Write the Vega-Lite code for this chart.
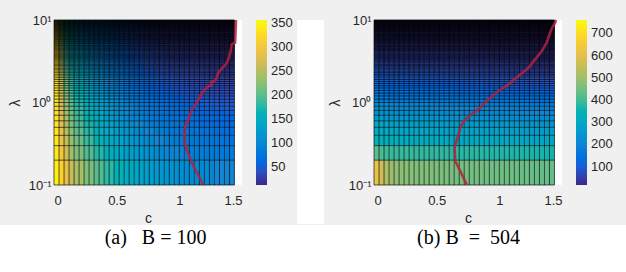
{
"$schema": "https://vega.github.io/schema/vega-lite/v6.json",
"background": "#f0f0f0",
"padding": {"left": 0, "top": 14, "right": 0, "bottom": 0},
"config": {
  "view": {"stroke": null},
  "axis": {"labelFont": "Liberation Sans", "labelFontSize": 13, "labelColor": "#262626", "titleFont": "Liberation Sans", "titleFontSize": 14, "titleFontWeight": "normal", "titleColor": "#262626", "grid": false, "ticks": false, "domain": false},
  "legend": {"labelFont": "Liberation Sans", "labelFontSize": 13, "labelColor": "#262626"}
},
"datasets": {
  "lam": [{"l": [0.1,0.2,0.3,0.4,0.5,0.6,0.7,0.8,0.9,1,1.1,1.2,1.3,1.4,1.5,1.6,1.7,1.8,1.9,2,2.1,2.2,2.3,2.4,2.5,2.6,2.7,2.8,2.9,3,3.1,3.2,3.3,3.4,3.5,3.6,3.7,3.8,3.9,4,4.1,4.2,4.3,4.4,4.5,4.6,4.7,4.8,4.9,5,5.1,5.2,5.3,5.4,5.5,5.6,5.7,5.8,5.9,6,6.1,6.2,6.3,6.4,6.5,6.6,6.7,6.8,6.9,7,7.1,7.2,7.3,7.4,7.5,7.6,7.7,7.8,7.9,8,8.1,8.2,8.3,8.4,8.5,8.6,8.7,8.8,8.9,9,9.1,9.2,9.3,9.4,9.5,9.6,9.7,9.8,9.9,10]}],
  "cgrid": [{"c": [0,0.04,0.08,0.12,0.16,0.2,0.24,0.28,0.32,0.36,0.4,0.44,0.48,0.52,0.56,0.6,0.64,0.68,0.72,0.76,0.8,0.84,0.88,0.92,0.96,1,1.04,1.08,1.12,1.16,1.2,1.24,1.28,1.32,1.36,1.4,1.44]}],
  "fillA": [
    {"l":0.1,"l2":0.2,"c":[0,0.04,0.08,0.12,0.16,0.24,0.32,0.4,0.48,0.56,0.64,0.72,0.8,0.88,0.96,1.04,1.12,1.2,1.28,1.36],"c2":[0.04,0.08,0.12,0.16,0.24,0.32,0.4,0.48,0.56,0.64,0.72,0.8,0.88,0.96,1.04,1.12,1.2,1.28,1.36,1.44],"v":[345,315,285,262,240,216,196,178,162,148,137,128,121,115,110,106,103,101,99,97]},
    {"l":0.2,"l2":0.3,"c":[0,0.04,0.08,0.12,0.16,0.24,0.32,0.4,0.48,0.56,0.64,0.72,0.8,0.88,0.96,1.04,1.12,1.2,1.28,1.36],"c2":[0.04,0.08,0.12,0.16,0.24,0.32,0.4,0.48,0.56,0.64,0.72,0.8,0.88,0.96,1.04,1.12,1.2,1.28,1.36,1.44],"v":[340,300,265,240,216,194,175,158,143,130,120,112,105,100,95,91,88,86,84,82]},
    {"l":0.3,"l2":0.4,"c":[0,0.04,0.08,0.12,0.16,0.24,0.32,0.4,0.48,0.56,0.64,0.72,0.8,0.88,0.96,1.04,1.12,1.2,1.28,1.36],"c2":[0.04,0.08,0.12,0.16,0.24,0.32,0.4,0.48,0.56,0.64,0.72,0.8,0.88,0.96,1.04,1.12,1.2,1.28,1.36,1.44],"v":[338,292,256,230,206,184,165,149,135,123,113,105,98,92,87,83,80,78,76,74]},
    {"l":0.4,"l2":0.5,"c":[0,0.04,0.08,0.12,0.16,0.24,0.32,0.4,0.48,0.56,0.64,0.72,0.8,0.88,0.96,1.04,1.12,1.2,1.28,1.36],"c2":[0.04,0.08,0.12,0.16,0.24,0.32,0.4,0.48,0.56,0.64,0.72,0.8,0.88,0.96,1.04,1.12,1.2,1.28,1.36,1.44],"v":[336,286,249,222,198,176,157,141,127,115,105,97,90,84,80,76,73,71,69,67]},
    {"l":0.5,"l2":0.6,"c":[0,0.04,0.08,0.12,0.16,0.24,0.32,0.4,0.48,0.56,0.64,0.72,0.8,0.88,0.96,1.04,1.12,1.2,1.28,1.36],"c2":[0.04,0.08,0.12,0.16,0.24,0.32,0.4,0.48,0.56,0.64,0.72,0.8,0.88,0.96,1.04,1.12,1.2,1.28,1.36,1.44],"v":[335,281,243,216,192,170,151,135,121,109,99,91,84,79,75,71,68,66,64,62]},
    {"l":0.6,"l2":0.7,"c":[0,0.04,0.08,0.12,0.16,0.24,0.32,0.4,0.48,0.56,0.64,0.72,0.8,0.88,0.96,1.04,1.12,1.2,1.28,1.36],"c2":[0.04,0.08,0.12,0.16,0.24,0.32,0.4,0.48,0.56,0.64,0.72,0.8,0.88,0.96,1.04,1.12,1.2,1.28,1.36,1.44],"v":[334,277,238,211,187,165,146,130,116,104,94,86,80,75,71,67,64,62,60,58]},
    {"l":0.7,"l2":0.8,"c":[0,0.04,0.08,0.12,0.16,0.24,0.32,0.4,0.48,0.56,0.64,0.72,0.8,0.88,0.96,1.04,1.12,1.2,1.28,1.36],"c2":[0.04,0.08,0.12,0.16,0.24,0.32,0.4,0.48,0.56,0.64,0.72,0.8,0.88,0.96,1.04,1.12,1.2,1.28,1.36,1.44],"v":[333,273,234,207,183,161,142,126,112,100,90,82,76,71,67,63,60,58,56,54]},
    {"l":0.8,"l2":0.9,"c":[0,0.04,0.08,0.12,0.16,0.24,0.32,0.4,0.48,0.56,0.64,0.72,0.8,0.88,0.96,1.04,1.12,1.2,1.28,1.36],"c2":[0.04,0.08,0.12,0.16,0.24,0.32,0.4,0.48,0.56,0.64,0.72,0.8,0.88,0.96,1.04,1.12,1.2,1.28,1.36,1.44],"v":[332,270,230,203,179,157,138,122,108,96,86,79,73,68,64,60,57,55,53,51]},
    {"l":0.9,"l2":1.0,"c":[0,0.04,0.08,0.12,0.16,0.24,0.32,0.4,0.48,0.56,0.64,0.72,0.8,0.88,0.96,1.04,1.12,1.2,1.28,1.36],"c2":[0.04,0.08,0.12,0.16,0.24,0.32,0.4,0.48,0.56,0.64,0.72,0.8,0.88,0.96,1.04,1.12,1.2,1.28,1.36,1.44],"v":[331,267,226,199,175,153,134,118,104,93,83,76,70,65,61,57,54,52,50,48]},
    {"l":1.0,"l2":1.2,"c":[0,0.04,0.08,0.12,0.16,0.24,0.32,0.4,0.48,0.56,0.64,0.72,0.8,0.88,0.96,1.04,1.12,1.2,1.28,1.36],"c2":[0.04,0.08,0.12,0.16,0.24,0.32,0.4,0.48,0.56,0.64,0.72,0.8,0.88,0.96,1.04,1.12,1.2,1.28,1.36,1.44],"v":[330,262,221,194,170,148,129,113,100,89,80,72,66,61,57,53,50,48,46,44]},
    {"l":1.2,"l2":1.5,"c":[0,0.04,0.08,0.12,0.16,0.24,0.32,0.4,0.48,0.56,0.64,0.72,0.8,0.88,0.96,1.04,1.12,1.2,1.28,1.36],"c2":[0.04,0.08,0.12,0.16,0.24,0.32,0.4,0.48,0.56,0.64,0.72,0.8,0.88,0.96,1.04,1.12,1.2,1.28,1.36,1.44],"v":[329,256,214,187,163,141,122,106,93,82,73,66,60,55,51,48,45,43,41,40]},
    {"l":1.5,"l2":2,"c":[0,0.04,0.08,0.12,0.16,0.24,0.32,0.4,0.48,0.56,0.64,0.72,0.8,0.88,0.96,1.04,1.12,1.2,1.28,1.36],"c2":[0.04,0.08,0.12,0.16,0.24,0.32,0.4,0.48,0.56,0.64,0.72,0.8,0.88,0.96,1.04,1.12,1.2,1.28,1.36,1.44],"v":[328,250,207,180,156,134,115,99,86,75,66,59,53,49,45,42,40,38,36,35]},
    {"l":2,"l2":2.5,"c":[0,0.04,0.08,0.12,0.16,0.24,0.32,0.4,0.48,0.56,0.64,0.72,0.8,0.88,0.96,1.04,1.12,1.2,1.28,1.36],"c2":[0.04,0.08,0.12,0.16,0.24,0.32,0.4,0.48,0.56,0.64,0.72,0.8,0.88,0.96,1.04,1.12,1.2,1.28,1.36,1.44],"v":[327,244,200,173,149,127,108,92,79,68,60,53,48,44,40,37,35,33,32,31]},
    {"l":2.5,"l2":3,"c":[0,0.04,0.08,0.12,0.16,0.24,0.32,0.4,0.48,0.56,0.64,0.72,0.8,0.88,0.96,1.04,1.12,1.2,1.28,1.36],"c2":[0.04,0.08,0.12,0.16,0.24,0.32,0.4,0.48,0.56,0.64,0.72,0.8,0.88,0.96,1.04,1.12,1.2,1.28,1.36,1.44],"v":[326,239,194,167,143,121,102,87,74,63,55,48,43,39,36,33,31,30,29,28]},
    {"l":3,"l2":4,"c":[0,0.04,0.08,0.12,0.16,0.24,0.32,0.4,0.48,0.56,0.64,0.72,0.8,0.88,0.96,1.04,1.12,1.2,1.28,1.36],"c2":[0.04,0.08,0.12,0.16,0.24,0.32,0.4,0.48,0.56,0.64,0.72,0.8,0.88,0.96,1.04,1.12,1.2,1.28,1.36,1.44],"v":[325,233,187,160,136,114,96,81,68,58,50,44,39,35,32,30,28,27,26,25]},
    {"l":4,"l2":5,"c":[0,0.04,0.08,0.12,0.16,0.24,0.32,0.4,0.48,0.56,0.64,0.72,0.8,0.88,0.96,1.04,1.12,1.2,1.28,1.36],"c2":[0.04,0.08,0.12,0.16,0.24,0.32,0.4,0.48,0.56,0.64,0.72,0.8,0.88,0.96,1.04,1.12,1.2,1.28,1.36,1.44],"v":[324,226,180,153,129,108,90,75,63,53,45,40,35,32,29,27,25,24,23,22]},
    {"l":5,"l2":7,"c":[0,0.04,0.08,0.12,0.16,0.24,0.32,0.4,0.48,0.56,0.64,0.72,0.8,0.88,0.96,1.04,1.12,1.2,1.28,1.36],"c2":[0.04,0.08,0.12,0.16,0.24,0.32,0.4,0.48,0.56,0.64,0.72,0.8,0.88,0.96,1.04,1.12,1.2,1.28,1.36,1.44],"v":[323,220,173,146,122,101,84,70,58,48,41,36,32,29,27,25,23,22,21,20]},
    {"l":7,"l2":10,"c":[0,0.04,0.08,0.12,0.16,0.24,0.32,0.4,0.48,0.56,0.64,0.72,0.8,0.88,0.96,1.04,1.12,1.2,1.28,1.36],"c2":[0.04,0.08,0.12,0.16,0.24,0.32,0.4,0.48,0.56,0.64,0.72,0.8,0.88,0.96,1.04,1.12,1.2,1.28,1.36,1.44],"v":[322,214,166,139,115,95,78,64,53,44,38,33,29,26,24,22,21,20,19,18]}
  ],
  "fillB": [
    {"l":0.1,"l2":0.2,"c":[0,0.04,0.08,0.12,0.16,0.24,0.32,0.4,0.48,0.56,0.64,0.72,0.8,0.88,0.96,1.04,1.12,1.2,1.28,1.36],"c2":[0.04,0.08,0.12,0.16,0.24,0.32,0.4,0.48,0.56,0.64,0.72,0.8,0.88,0.96,1.04,1.12,1.2,1.28,1.36,1.44],"v":[620,560,520,495,478,468,462,458,455,452,450,448,446,444,442,440,438,436,434,432]},
    {"l":0.2,"l2":0.3,"c":[0,0.04,0.08,0.12,0.16,0.24,0.32,0.4,0.48,0.56,0.64,0.72,0.8,0.88,0.96,1.04,1.12,1.2,1.28,1.36],"c2":[0.04,0.08,0.12,0.16,0.24,0.32,0.4,0.48,0.56,0.64,0.72,0.8,0.88,0.96,1.04,1.12,1.2,1.28,1.36,1.44],"v":[425,405,396,391,388,386,384,382,380,378,376,374,372,370,368,366,364,362,360,358]},
    {"l":0.3,"l2":0.4,"c":[0,0.04,0.08,0.12,0.16,0.24,0.32,0.4,0.48,0.56,0.64,0.72,0.8,0.88,0.96,1.04,1.12,1.2,1.28,1.36],"c2":[0.04,0.08,0.12,0.16,0.24,0.32,0.4,0.48,0.56,0.64,0.72,0.8,0.88,0.96,1.04,1.12,1.2,1.28,1.36,1.44],"v":[340,330,325,322,320,318,316,314,312,310,308,306,304,302,300,298,296,294,292,290]},
    {"l":0.4,"l2":0.5,"c":[0,0.04,0.08,0.12,0.16,0.24,0.32,0.4,0.48,0.56,0.64,0.72,0.8,0.88,0.96,1.04,1.12,1.2,1.28,1.36],"c2":[0.04,0.08,0.12,0.16,0.24,0.32,0.4,0.48,0.56,0.64,0.72,0.8,0.88,0.96,1.04,1.12,1.2,1.28,1.36,1.44],"v":[320,312,306,303,300,297,295,292,289,287,285,283,281,279,277,275,273,271,269,267]},
    {"l":0.5,"l2":0.6,"c":[0,0.04,0.08,0.12,0.16,0.24,0.32,0.4,0.48,0.56,0.64,0.72,0.8,0.88,0.96,1.04,1.12,1.2,1.28,1.36],"c2":[0.04,0.08,0.12,0.16,0.24,0.32,0.4,0.48,0.56,0.64,0.72,0.8,0.88,0.96,1.04,1.12,1.2,1.28,1.36,1.44],"v":[296,288,283,280,277,274,272,270,267,265,263,261,259,257,255,253,251,249,247,245]},
    {"l":0.6,"l2":0.7,"c":[0,0.04,0.08,0.12,0.16,0.24,0.32,0.4,0.48,0.56,0.64,0.72,0.8,0.88,0.96,1.04,1.12,1.2,1.28,1.36],"c2":[0.04,0.08,0.12,0.16,0.24,0.32,0.4,0.48,0.56,0.64,0.72,0.8,0.88,0.96,1.04,1.12,1.2,1.28,1.36,1.44],"v":[272,264,259,256,253,251,249,247,245,243,241,239,237,235,233,231,229,227,225,223]},
    {"l":0.7,"l2":0.8,"c":[0,0.04,0.08,0.12,0.16,0.24,0.32,0.4,0.48,0.56,0.64,0.72,0.8,0.88,0.96,1.04,1.12,1.2,1.28,1.36],"c2":[0.04,0.08,0.12,0.16,0.24,0.32,0.4,0.48,0.56,0.64,0.72,0.8,0.88,0.96,1.04,1.12,1.2,1.28,1.36,1.44],"v":[248,241,236,233,231,229,227,225,223,221,219,217,215,213,211,209,207,205,203,201]},
    {"l":0.8,"l2":0.9,"c":[0,0.04,0.08,0.12,0.16,0.24,0.32,0.4,0.48,0.56,0.64,0.72,0.8,0.88,0.96,1.04,1.12,1.2,1.28,1.36],"c2":[0.04,0.08,0.12,0.16,0.24,0.32,0.4,0.48,0.56,0.64,0.72,0.8,0.88,0.96,1.04,1.12,1.2,1.28,1.36,1.44],"v":[231,224,220,217,215,213,212,210,208,206,204,202,200,198,196,194,192,190,188,186]},
    {"l":0.9,"l2":1.0,"c":[0,0.04,0.08,0.12,0.16,0.24,0.32,0.4,0.48,0.56,0.64,0.72,0.8,0.88,0.96,1.04,1.12,1.2,1.28,1.36],"c2":[0.04,0.08,0.12,0.16,0.24,0.32,0.4,0.48,0.56,0.64,0.72,0.8,0.88,0.96,1.04,1.12,1.2,1.28,1.36,1.44],"v":[215,208,204,202,200,198,196,195,193,191,189,187,185,183,181,179,177,175,173,171]},
    {"l":1.0,"l2":1.2,"c":[0,0.04,0.08,0.12,0.16,0.24,0.32,0.4,0.48,0.56,0.64,0.72,0.8,0.88,0.96,1.04,1.12,1.2,1.28,1.36],"c2":[0.04,0.08,0.12,0.16,0.24,0.32,0.4,0.48,0.56,0.64,0.72,0.8,0.88,0.96,1.04,1.12,1.2,1.28,1.36,1.44],"v":[185,178,174,172,170,168,167,166,164,162,160,158,156,154,152,150,148,146,144,142]},
    {"l":1.2,"l2":1.5,"c":[0,0.04,0.08,0.12,0.16,0.24,0.32,0.4,0.48,0.56,0.64,0.72,0.8,0.88,0.96,1.04,1.12,1.2,1.28,1.36],"c2":[0.04,0.08,0.12,0.16,0.24,0.32,0.4,0.48,0.56,0.64,0.72,0.8,0.88,0.96,1.04,1.12,1.2,1.28,1.36,1.44],"v":[160,154,150,148,146,145,144,143,141,139,137,135,133,131,129,127,125,123,121,119]},
    {"l":1.5,"l2":2,"c":[0,0.04,0.08,0.12,0.16,0.24,0.32,0.4,0.48,0.56,0.64,0.72,0.8,0.88,0.96,1.04,1.12,1.2,1.28,1.36],"c2":[0.04,0.08,0.12,0.16,0.24,0.32,0.4,0.48,0.56,0.64,0.72,0.8,0.88,0.96,1.04,1.12,1.2,1.28,1.36,1.44],"v":[128,122,119,117,116,115,114,113,111,109,107,105,103,101,99,97,95,93,91,89]},
    {"l":2,"l2":2.5,"c":[0,0.04,0.08,0.12,0.16,0.24,0.32,0.4,0.48,0.56,0.64,0.72,0.8,0.88,0.96,1.04,1.12,1.2,1.28,1.36],"c2":[0.04,0.08,0.12,0.16,0.24,0.32,0.4,0.48,0.56,0.64,0.72,0.8,0.88,0.96,1.04,1.12,1.2,1.28,1.36,1.44],"v":[104,99,96,94,93,92,91,91,89,88,86,84,82,80,78,76,74,72,70,68]},
    {"l":2.5,"l2":3,"c":[0,0.04,0.08,0.12,0.16,0.24,0.32,0.4,0.48,0.56,0.64,0.72,0.8,0.88,0.96,1.04,1.12,1.2,1.28,1.36],"c2":[0.04,0.08,0.12,0.16,0.24,0.32,0.4,0.48,0.56,0.64,0.72,0.8,0.88,0.96,1.04,1.12,1.2,1.28,1.36,1.44],"v":[88,83,80,79,78,77,76,76,75,73,71,69,67,65,63,61,59,57,55,53]},
    {"l":3,"l2":4,"c":[0,0.04,0.08,0.12,0.16,0.24,0.32,0.4,0.48,0.56,0.64,0.72,0.8,0.88,0.96,1.04,1.12,1.2,1.28,1.36],"c2":[0.04,0.08,0.12,0.16,0.24,0.32,0.4,0.48,0.56,0.64,0.72,0.8,0.88,0.96,1.04,1.12,1.2,1.28,1.36,1.44],"v":[73,68,66,65,64,63,62,62,61,60,58,56,54,52,50,48,46,44,42,40]},
    {"l":4,"l2":5,"c":[0,0.04,0.08,0.12,0.16,0.24,0.32,0.4,0.48,0.56,0.64,0.72,0.8,0.88,0.96,1.04,1.12,1.2,1.28,1.36],"c2":[0.04,0.08,0.12,0.16,0.24,0.32,0.4,0.48,0.56,0.64,0.72,0.8,0.88,0.96,1.04,1.12,1.2,1.28,1.36,1.44],"v":[57,53,51,50,49,48,47,47,46,45,44,42,40,38,36,34,32,31,30,29]},
    {"l":5,"l2":7,"c":[0,0.04,0.08,0.12,0.16,0.24,0.32,0.4,0.48,0.56,0.64,0.72,0.8,0.88,0.96,1.04,1.12,1.2,1.28,1.36],"c2":[0.04,0.08,0.12,0.16,0.24,0.32,0.4,0.48,0.56,0.64,0.72,0.8,0.88,0.96,1.04,1.12,1.2,1.28,1.36,1.44],"v":[48,44,42,41,40,40,39,39,38,37,36,35,34,33,32,31,30,29,28,27]},
    {"l":7,"l2":10,"c":[0,0.04,0.08,0.12,0.16,0.24,0.32,0.4,0.48,0.56,0.64,0.72,0.8,0.88,0.96,1.04,1.12,1.2,1.28,1.36],"c2":[0.04,0.08,0.12,0.16,0.24,0.32,0.4,0.48,0.56,0.64,0.72,0.8,0.88,0.96,1.04,1.12,1.2,1.28,1.36,1.44],"v":[40,37,35,34,33,33,32,32,31,31,30,29,28,27,26,25,24,23,22,21]}
  ],
  "lineA": [{"c":1.19,"l":0.1},{"c":1.147,"l":0.135},{"c":1.093,"l":0.195},{"c":1.053,"l":0.283},{"c":1.04,"l":0.35},{"c":1.04,"l":0.411},{"c":1.05,"l":0.54},{"c":1.07,"l":0.6},{"c":1.08,"l":0.65},{"c":1.093,"l":0.79},{"c":1.12,"l":0.9},{"c":1.147,"l":1.04},{"c":1.16,"l":1.15},{"c":1.173,"l":1.26},{"c":1.2,"l":1.4},{"c":1.213,"l":1.51},{"c":1.26,"l":1.65},{"c":1.25,"l":1.75},{"c":1.279,"l":1.82},{"c":1.3,"l":2.0},{"c":1.306,"l":2.2},{"c":1.32,"l":2.4},{"c":1.346,"l":2.64},{"c":1.37,"l":2.9},{"c":1.386,"l":3.18},{"c":1.399,"l":3.66},{"c":1.41,"l":4.2},{"c":1.418,"l":5.07},{"c":1.445,"l":5.3},{"c":1.452,"l":10}],
  "lineB": [{"c":0.741,"l":0.1},{"c":0.688,"l":0.148},{"c":0.648,"l":0.195},{"c":0.643,"l":0.283},{"c":0.66,"l":0.35},{"c":0.675,"l":0.411},{"c":0.688,"l":0.495},{"c":0.715,"l":0.597},{"c":0.781,"l":0.72},{"c":0.847,"l":0.865},{"c":0.914,"l":1.09},{"c":0.993,"l":1.38},{"c":1.073,"l":1.66},{"c":1.153,"l":2.09},{"c":1.233,"l":2.64},{"c":1.285,"l":3.33},{"c":1.339,"l":4.2},{"c":1.378,"l":5.3},{"c":1.405,"l":7.0},{"c":1.42,"l":8.0},{"c":1.445,"l":9.3},{"c":1.453,"l":10}],
  "captions": [{"panel":"a","label":"(a)\u00a0\u00a0\u00a0B = 100"},{"panel":"b","label":"(b) B\u00a0\u00a0=\u00a0\u00a0504"}]
},
"vconcat": [
  {
    "hconcat": [
      {
        "width": 4, "height": 1,
        "data": {"values": []},
        "mark": "point"
      },
      {
        "width": 188, "height": 165,
        "view": {"fill": "white", "stroke": null},
        "layer": [
          {
            "data": {"name": "fillA"},
            "transform": [{"flatten": ["c", "c2", "v"]}],
            "mark": {"type": "rect"},
            "encoding": {
              "x": {"field": "c", "type": "quantitative", "scale": {"domain": [0, 1.5], "nice": false, "zero": false}, "axis": {"values": [0, 0.5, 1, 1.5], "format": "~g", "labelPadding": 9, "title": "c", "titlePadding": 4}},
              "x2": {"field": "c2"},
              "y": {"field": "l", "type": "quantitative", "scale": {"type": "log", "domain": [0.1, 10], "nice": false}, "axis": {"values": [0.1, 1, 10], "labelExpr": "datum.value >= 5 ? '10¹' : datum.value >= 0.5 ? '10⁰' : '10⁻¹'", "labelPadding": 3, "title": "λ", "titlePadding": 6}},
              "y2": {"field": "l2"},
              "color": {"field": "v", "type": "quantitative", "scale": {"domain": [12, 356], "range": ["#352a87", "#0363e1", "#1485d4", "#06a7c6", "#38b99e", "#92bf73", "#d9ba56", "#fcce2e", "#f9fb0e"]}, "legend": {"values": [50, 100, 150, 200, 250, 300, 350], "title": null, "gradientLength": 165, "gradientThickness": 11, "offset": 14, "labelOffset": 4, "labelOverlap": false, "direction": "vertical"}}
            }
          },
          {
            "data": {"name": "lam"},
            "transform": [{"flatten": ["l"]}],
            "mark": {"type": "rule", "color": "black", "strokeWidth": 0.65},
            "encoding": {"y": {"field": "l", "type": "quantitative"}, "x": {"datum": 0}, "x2": {"datum": 1.44}}
          },
          {
            "data": {"name": "cgrid"},
            "transform": [{"flatten": ["c"]}],
            "mark": {"type": "rule", "color": "black", "strokeWidth": 0.75, "opacity": 0.85},
            "encoding": {"x": {"field": "c", "type": "quantitative"}}
          },
          {
            "data": {"name": "lineA"},
            "mark": {"type": "line", "color": "#b3203f", "strokeWidth": 2.6, "opacity": 0.85},
            "encoding": {"x": {"field": "c", "type": "quantitative"}, "y": {"field": "l", "type": "quantitative"}, "order": {"field": "l"}}
          }
        ]
      },
      {
        "width": 27, "height": 204,
        "view": {"fill": "white", "stroke": null},
        "data": {"values": []},
        "mark": "point"
      },
      {
        "width": 188, "height": 165,
        "view": {"fill": "white", "stroke": null},
        "layer": [
          {
            "data": {"name": "fillB"},
            "transform": [{"flatten": ["c", "c2", "v"]}],
            "mark": {"type": "rect"},
            "encoding": {
              "x": {"field": "c", "type": "quantitative", "scale": {"domain": [0, 1.5], "nice": false, "zero": false}, "axis": {"values": [0, 0.5, 1, 1.5], "format": "~g", "labelPadding": 9, "title": "c", "titlePadding": 4}},
              "x2": {"field": "c2"},
              "y": {"field": "l", "type": "quantitative", "scale": {"type": "log", "domain": [0.1, 10], "nice": false}, "axis": {"values": [0.1, 1, 10], "labelExpr": "datum.value >= 5 ? '10¹' : datum.value >= 0.5 ? '10⁰' : '10⁻¹'", "labelPadding": 3, "title": "λ", "titlePadding": 6}},
              "y2": {"field": "l2"},
              "color": {"field": "v", "type": "quantitative", "scale": {"domain": [17, 760], "range": ["#352a87", "#0363e1", "#1485d4", "#06a7c6", "#38b99e", "#92bf73", "#d9ba56", "#fcce2e", "#f9fb0e"]}, "legend": {"values": [100, 200, 300, 400, 500, 600, 700], "title": null, "gradientLength": 165, "gradientThickness": 11, "offset": 14, "labelOffset": 4, "labelOverlap": false, "direction": "vertical"}}
            }
          },
          {
            "data": {"name": "lam"},
            "transform": [{"flatten": ["l"]}],
            "mark": {"type": "rule", "color": "black", "strokeWidth": 0.65},
            "encoding": {"y": {"field": "l", "type": "quantitative"}, "x": {"datum": 0}, "x2": {"datum": 1.44}}
          },
          {
            "data": {"name": "cgrid"},
            "transform": [{"flatten": ["c"]}],
            "mark": {"type": "rule", "color": "black", "strokeWidth": 0.75, "opacity": 0.85},
            "encoding": {"x": {"field": "c", "type": "quantitative"}}
          },
          {
            "data": {"name": "lineB"},
            "mark": {"type": "line", "color": "#b3203f", "strokeWidth": 2.6, "opacity": 0.85},
            "encoding": {"x": {"field": "c", "type": "quantitative"}, "y": {"field": "l", "type": "quantitative"}, "order": {"field": "l"}}
          }
        ]
      }
    ],
    "spacing": 4,
    "resolve": {"scale": {"color": "independent", "x": "independent", "y": "independent"}, "legend": {"color": "independent"}}
  },
  {
    "width": 626, "height": 46,
    "view": {"fill": "white", "stroke": null},
    "data": {"name": "captions"},
    "mark": {"type": "text", "font": "Liberation Serif", "fontSize": 20, "color": "black", "baseline": "bottom"},
    "encoding": {
      "x": {"field": "panel", "type": "nominal", "scale": {"type": "point", "paddingOuter": 0.478, "align": 0.497}, "axis": null},
      "text": {"field": "label"}
    }
  }
],
"spacing": 0
}
